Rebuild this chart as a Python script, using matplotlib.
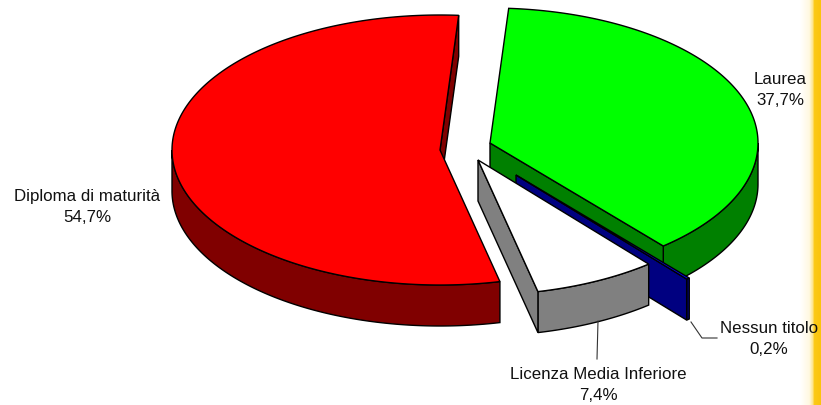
import numpy as np
import matplotlib
matplotlib.use("Agg")
import matplotlib.pyplot as plt
from matplotlib.colors import LinearSegmentedColormap
from matplotlib.patches import Polygon

plt.rcParams["font.family"] = ["Liberation Sans", "DejaVu Sans"]

categories = ["Laurea", "Nessun titolo", "Licenza Media Inferiore", "Diploma di maturità"]
shares = [37.7, 0.2, 7.4, 54.7]
top_colors = ["#00ff00", "#0000ff", "#ffffff", "#ff0000"]
side_colors = ["#008000", "#000080", "#808080", "#800000"]

# pie layout in pixels, each slice is pulled out so it has its own centre
centers = [(490, 143), (516, 175), (478, 160), (440, 150)]
rx, ry = 268, 135
depth = 41
start_angle = 4

# draw back to front
draw_order = [3, 0, 1, 2]

fig = plt.figure(figsize=(8.21, 4.05), dpi=100)
ax = fig.add_axes([0, 0, 1, 1])

# gold strip on the right edge of the slide
strip = LinearSegmentedColormap.from_list(
    "strip", [(0, "#ffffff"), (0.45, "#fff8e0"), (0.62, "#fde48a"), (0.68, "#fbc917"), (1, "#fbc40c")]
)
ax.imshow(np.linspace(0, 1, 64).reshape(1, -1), cmap=strip, extent=(800, 821, 405, 0), aspect="auto", zorder=0)


def rim_points(center, a0, a1):
    t = np.radians(np.linspace(a0, a1, max(int(abs(a1 - a0)) * 2, 2)))
    return np.column_stack([center[0] + rx * np.sin(t), center[1] - ry * np.cos(t)])


edges = start_angle + np.cumsum([0] + shares) * 3.6
z = 1
for i in draw_order:
    a0, a1 = edges[i], edges[i + 1]
    c = centers[i]
    drop = np.array([0, depth])

    # outer wall, only the front half of the ellipse can be seen
    v0, v1 = max(a0, 90), min(a1, 270)
    if v1 > v0:
        pts = rim_points(c, v0, v1)
        wall = np.vstack([pts, pts[::-1] + drop])
        ax.add_patch(Polygon(wall, fc=side_colors[i], ec="black", lw=1.0, zorder=z))

    # cut face at the end of the slice, it looks toward the viewer on the right side
    if np.sin(np.radians(a1)) > 0:
        outer = rim_points(c, a1, a1 + 0.001)[0]
        face = np.array([c, outer, outer + drop, np.array(c) + drop])
        ax.add_patch(Polygon(face, fc=side_colors[i], ec="black", lw=1.0, zorder=z))

    top = np.vstack([[c], rim_points(c, a0, a1)])
    ax.add_patch(Polygon(top, fc=top_colors[i], ec="black", lw=1.0, zorder=z))
    z += 1

# leader lines
ax.plot([691, 702, 717], [322, 338, 338], color="#333333", lw=0.8, zorder=10)
ax.plot([598, 597], [321, 359], color="#333333", lw=0.8, zorder=10)

label_pos = [(780, 90), (769, 339), (598, 385), (87, 207)]
for name, val, (x, y) in zip(categories, shares, label_pos):
    txt = name + "\n" + f"{val:.1f}".replace(".", ",") + "%"
    ax.text(x, y, txt, ha="center", va="center", fontsize=12.2, color="#111111", linespacing=1.55, zorder=11)

ax.set_xlim(0, 821)
ax.set_ylim(405, 0)
ax.axis("off")
fig.savefig("out.png", dpi=100)
